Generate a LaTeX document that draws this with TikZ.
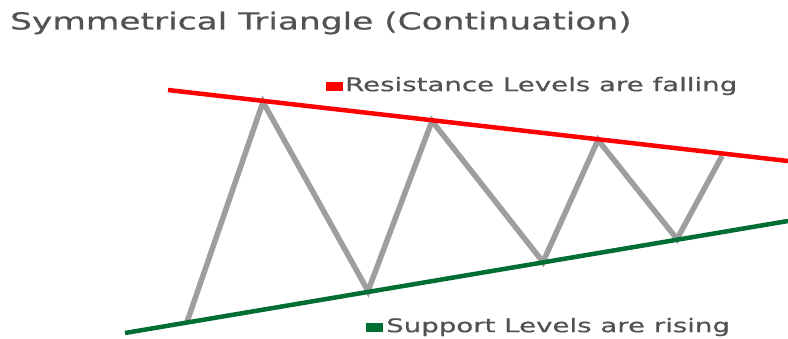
\documentclass[tikz,border=0pt]{standalone}
\usepackage{fontspec}
\setmainfont[FakeStretch=1.47,FakeBold=0.6]{DejaVu Sans}
\begin{document}
\begin{tikzpicture}[x=1pt,y=-1pt,
  txt/.style={text=black!68, inner sep=0pt, anchor=west},
  res/.style={draw=red, line width=4.5pt},
  sup/.style={draw={rgb,255:red,0;green,110;blue,50}, line width=4.5pt},
  zig/.style={draw=black!38, line width=5.5pt, line join=miter},
  legendsq/.style={minimum width=17pt, minimum height=9pt, inner sep=0pt}]
\useasboundingbox (0,0) rectangle (788,338);
\definecolor{supgreen}{RGB}{0,110,50}
\coordinate (r1) at (168,90);
\coordinate (r2) at (788,161);
\coordinate (s1) at (125,333);
\coordinate (s2) at (788,221);
\coordinate (p1) at (187,322);
\coordinate (p2) at (263,102);
\coordinate (p3) at (368,291);
\coordinate (p4) at (432,121);
\coordinate (p5) at (543,262);
\coordinate (p6) at (598,140);
\coordinate (p7) at (677,239);
\coordinate (p8) at (722,156);
\draw[zig] (p1) -- (p2) -- (p3) -- (p4) -- (p5) -- (p6) -- (p7) -- (p8);
\draw[res] (r1) -- (r2);
\draw[sup] (s1) -- (s2);
\node[txt, font=\fontsize{23.4}{26}\selectfont] (title) at (10,23) {Symmetrical Triangle (Continuation)};
\node[legendsq, fill=red] (rsq) at (334,86.5) {};
\node[txt, font=\fontsize{18.8}{22}\selectfont] (rlab) at (345,86) {Resistance Levels are falling};
\node[legendsq, fill=supgreen] (ssq) at (374,327) {};
\node[txt, font=\fontsize{18.8}{22}\selectfont] (slab) at (386,327) {Support Levels are rising};
\end{tikzpicture}
\end{document}
